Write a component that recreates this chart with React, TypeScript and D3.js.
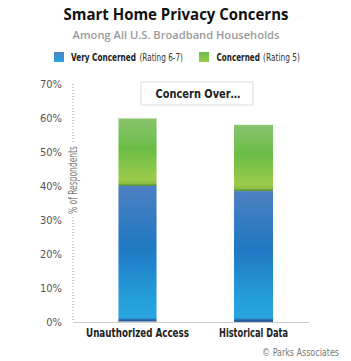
import React, { useLayoutEffect, useRef, useState } from 'react';
import * as d3 from 'd3';

// chart data
const categories = ['Unauthorized Access', 'Historical Data'];
const veryConcerned = [40, 38.5];
const concerned = [20, 19.5];
const yTicks = [0, 10, 20, 30, 40, 50, 60, 70];
const catLabelWidths = [103, 69];

const FONT = "'DejaVu Sans Condensed', 'Liberation Sans Narrow', 'DejaVu Sans', sans-serif";

// text squeezed horizontally to a given width (keeps the bbox honest)
const FitText = ({ x, y, width, anchor = 'start', rotate = 0, children, ...rest }) => {
    const ref = useRef(null);
    const [scale, setScale] = useState(1);
    useLayoutEffect(() => {
        const len = ref.current.getComputedTextLength();
        if (len > 0) setScale(width / len);
    }, [width]);
    return (
        <g transform={`translate(${x},${y}) rotate(${rotate}) scale(${scale},1)`}>
            <text ref={ref} x={0} y={0} textAnchor={anchor} {...rest}>{children}</text>
        </g>
    );
};

const App = () => {
    const width = 351;
    const height = 361;
    const margin = { top: 84, bottom: 322, left: 73, right: 309 };

    const y = d3.scaleLinear().domain([0, 70]).range([margin.bottom, margin.top]);
    const x = d3.scaleBand()
        .domain(categories)
        .range([73, 318])
        .paddingInner(0.664)
        .paddingOuter(0.388);

    const fmt = (v) => `${v}%`;

    return (
        <svg width={width} height={height} style={{ position: 'absolute', left: 0, top: 0, background: '#fff' }}>
            <defs>
                <linearGradient id="blueGrad" x1="0" y1="0" x2="0" y2="1">
                    <stop offset="0%" stopColor="#4d80c2" />
                    <stop offset="45%" stopColor="#1f78c1" />
                    <stop offset="85%" stopColor="#26a0dd" />
                    <stop offset="97%" stopColor="#28a5e0" />
                    <stop offset="98.5%" stopColor="#2a5f9e" />
                    <stop offset="100%" stopColor="#2a5f9e" />
                </linearGradient>
                <linearGradient id="greenGrad" x1="0" y1="0" x2="0" y2="1">
                    <stop offset="0%" stopColor="#8ac46f" />
                    <stop offset="45%" stopColor="#6bbd47" />
                    <stop offset="90%" stopColor="#9ccb4a" />
                    <stop offset="96%" stopColor="#8cbf45" />
                    <stop offset="100%" stopColor="#4f8a3a" />
                </linearGradient>
                <linearGradient id="blueLeg" x1="0" y1="0" x2="0" y2="1">
                    <stop offset="0%" stopColor="#4d80c2" />
                    <stop offset="100%" stopColor="#28a5e0" />
                </linearGradient>
                <linearGradient id="greenLeg" x1="0" y1="0" x2="0" y2="1">
                    <stop offset="0%" stopColor="#6bbd47" />
                    <stop offset="100%" stopColor="#9ccb4a" />
                </linearGradient>
            </defs>

            {/* title */}
            <FitText x={176} y={20} width={225} anchor="middle" fontFamily="'Open Sans', sans-serif"
                fontWeight="bold" fontSize={16} fill="#111">
                Smart Home Privacy Concerns
            </FitText>
            <FitText x={176} y={39} width={207} anchor="middle" fontFamily="'Open Sans', sans-serif"
                fontWeight="600" fontSize={11.5} fill="#9a9a9a">
                Among All U.S. Broadband Households
            </FitText>

            {/* legend */}
            <rect x={54} y={52} width={10} height={10} fill="url(#blueLeg)" />
            <FitText x={71} y={61} width={65} fontFamily={FONT} fontWeight="bold" fontSize={11} fill="#222">
                Very Concerned
            </FitText>
            <FitText x={139.5} y={61} width={43.5} fontFamily={FONT} fontSize={11} fill="#333">
                (Rating 6-7)
            </FitText>
            <rect x={199} y={52} width={10} height={10} fill="url(#greenLeg)" />
            <FitText x={216.5} y={61} width={43.5} fontFamily={FONT} fontWeight="bold" fontSize={11} fill="#222">
                Concerned
            </FitText>
            <FitText x={263} y={61} width={37} fontFamily={FONT} fontSize={11} fill="#333">
                (Rating 5)
            </FitText>

            {/* y axis: dotted line broken by the label */}
            <line x1={margin.left} x2={margin.left} y1={y(70)} y2={142} stroke="#999" strokeDasharray="1,2" />
            <line x1={margin.left} x2={margin.left} y1={217} y2={y(0)} stroke="#999" strokeDasharray="1,2" />
            <FitText x={margin.left + 3.5} y={180} rotate={-90} width={68} anchor="middle"
                fontFamily={FONT} fontSize={12} fill="#777">
                % of Respondents
            </FitText>
            {yTicks.map((t) => (
                <text key={t} x={62} y={y(t) + 4} textAnchor="end" fontFamily={FONT} fontSize={11} fill="#555">
                    {fmt(t)}
                </text>
            ))}

            {/* bars */}
            {categories.map((c, i) => (
                <g key={c}>
                    <rect x={x(c)} width={x.bandwidth()} y={y(veryConcerned[i])}
                        height={y(0) - y(veryConcerned[i])} fill="url(#blueGrad)" />
                    <rect x={x(c)} width={x.bandwidth()} y={y(veryConcerned[i] + concerned[i])}
                        height={y(veryConcerned[i]) - y(veryConcerned[i] + concerned[i])} fill="url(#greenGrad)" />
                    {i === 0 && (
                        <rect x={x(c) + 0.5} width={x.bandwidth() - 1} y={y(veryConcerned[i] + concerned[i]) + 0.5}
                            height={y(0) - y(veryConcerned[i] + concerned[i]) - 1} fill="none"
                            stroke="#ffffff" strokeOpacity={0.45} />
                    )}
                    <FitText x={x(c) + x.bandwidth() / 2} y={337} width={catLabelWidths[i]} anchor="middle"
                        fontFamily={FONT} fontWeight="bold" fontSize={12} fill="#222">
                        {c}
                    </FitText>
                </g>
            ))}

            {/* baseline */}
            <line x1={margin.left} x2={margin.right} y1={y(0) + 0.5} y2={y(0) + 0.5} stroke="#ccc" />

            {/* inner label box */}
            <rect x={141} y={82} width={112} height={23} fill="#fff" stroke="#ddd" />
            <FitText x={198} y={98} width={85} anchor="middle" fontFamily={FONT} fontWeight="bold"
                fontSize={12} fill="#222">
                Concern Over…
            </FitText>

            <FitText x={339} y={356} width={77} anchor="end" fontFamily={FONT} fontSize={10} fill="#777">
                © Parks Associates
            </FitText>
        </svg>
    );
};

export default App;
